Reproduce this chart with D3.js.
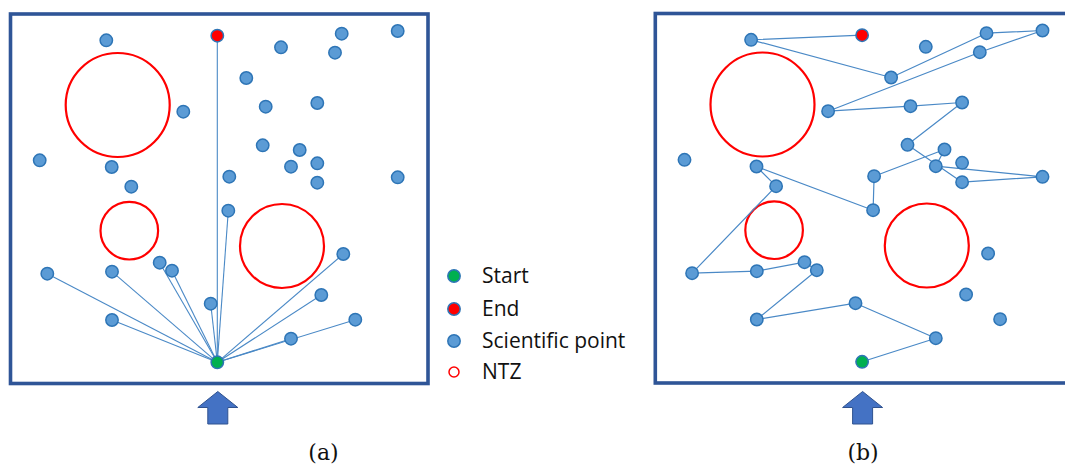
<!DOCTYPE html>
<html>
<head>
<meta charset="utf-8">
<script src="https://cdn.jsdelivr.net/npm/d3@7"></script>
<style>
  body { margin: 0; background: #fff; }
  svg { display: block; }
</style>
</head>
<body>
<div id="chart"></div>
<script>
// field coordinates, relative to the top-left corner of each panel box
const startPoint = [206.8, 348.3];
const endPoint = [206.8, 21.7];

const sciX = [95.8, 270.5, 331.2, 387.2, 324.5, 235.8, 172.8, 255.2, 306.8, 29.2,
  101.2, 120.8, 252.2, 289.2, 280.5, 306.8, 306.8, 218.8, 387.2, 217.8,
  36.8, 101.5, 149.2, 161.5, 332.8, 310.8, 200.2, 101.5, 344.8, 280.5];
const sciY = [26.3, 33.3, 19.7, 17, 38.7, 64, 97.7, 92.7, 89, 146.3,
  153, 172.7, 131.3, 136, 152.7, 149.3, 168.7, 162.7, 163.3, 196.7,
  259.7, 257.7, 248.7, 256.7, 240, 281, 289.7, 306, 305.7, 324.7];

// no-travel zones
const ntzX = [107.2, 118.8, 271.5];
const ntzY = [91, 216.7, 232];
const ntzR = [52, 28.8, 42];

// (a): direct links from start; (b): one route (1-based point numbers)
const linksA = [21, 22, 23, 24, 28, 27, 20, "end", 25, 26, 29, 30];
const routeB = ["start", 30, 27, 28, 24, 23, 22, 21, 12, 11, 20, 18, 14, 15, 19, 17,
  13, 9, 8, 7, 5, 4, 3, 6, 1, "end"];

const legendLabels = ["Start", "End", "Scientific point", "NTZ"];
const panelLabels = ["(a)", "(b)"];

const W = 1065, H = 468;
const fieldW = 417.5, fieldH = 369.5;
const panels = [
  { x0: 10.5, y0: 14, label: panelLabels[0], labelX: 323.5 },
  { x0: 655.3, y0: 13.5, label: panelLabels[1], labelX: 863 },
];

const colors = {
  frame: "#2f5597",
  pointFill: "#5b9bd5",
  pointStroke: "#2e75b6",
  link: "#4a89c6",
  ntz: "#ff0000",
  start: "#00b050",
  end: "#ff0000",
  arrow: "#4472c4",
  arrowStroke: "#2f528f",
};
const pointR = 6.2;

const svg = d3.select("#chart").append("svg")
  .attr("width", W).attr("height", H);

function coord(key) {
  if (key === "start") return startPoint;
  if (key === "end") return endPoint;
  return [sciX[key - 1], sciY[key - 1]];
}

panels.forEach((p, pi) => {
  const x = d3.scaleLinear().domain([0, fieldW]).range([p.x0, p.x0 + fieldW]);
  const y = d3.scaleLinear().domain([0, fieldH]).range([p.y0, p.y0 + fieldH]);
  const g = svg.append("g");

  // frame
  g.append("rect")
    .attr("x", x(0)).attr("y", y(0))
    .attr("width", x(fieldW) - x(0)).attr("height", y(fieldH) - y(0))
    .attr("fill", "#fff")
    .attr("stroke", colors.frame)
    .attr("stroke-width", 3.6);

  // NTZ
  g.selectAll(".ntz").data(ntzX).enter().append("circle")
    .attr("cx", (d) => x(d))
    .attr("cy", (d, i) => y(ntzY[i]))
    .attr("r", (d, i) => ntzR[i])
    .attr("fill", "none")
    .attr("stroke", colors.ntz)
    .attr("stroke-width", 2.2);

  // links
  if (pi === 0) {
    g.selectAll(".link").data(linksA).enter().append("line")
      .attr("x1", x(startPoint[0])).attr("y1", y(startPoint[1]))
      .attr("x2", (d) => x(coord(d)[0]))
      .attr("y2", (d) => y(coord(d)[1]))
      .attr("stroke", colors.link)
      .attr("stroke-width", 1.1);
  } else {
    const line = d3.line().x((d) => x(coord(d)[0])).y((d) => y(coord(d)[1]));
    g.append("path")
      .attr("d", line(routeB))
      .attr("fill", "none")
      .attr("stroke", colors.link)
      .attr("stroke-width", 1.2)
      .attr("stroke-linejoin", "round");
  }

  // scientific points
  g.selectAll(".pt").data(sciX).enter().append("circle")
    .attr("cx", (d) => x(d))
    .attr("cy", (d, i) => y(sciY[i]))
    .attr("r", pointR)
    .attr("fill", colors.pointFill)
    .attr("stroke", colors.pointStroke)
    .attr("stroke-width", 1.5);

  g.append("circle")
    .attr("cx", x(startPoint[0])).attr("cy", y(startPoint[1]))
    .attr("r", pointR).attr("fill", colors.start)
    .attr("stroke", colors.pointStroke).attr("stroke-width", 1.5);
  g.append("circle")
    .attr("cx", x(endPoint[0])).attr("cy", y(endPoint[1]))
    .attr("r", pointR).attr("fill", colors.end)
    .attr("stroke", colors.pointStroke).attr("stroke-width", 1.5);

  // arrow under the frame
  const ax = x(startPoint[0]) + 0.5, top = 391.5;
  const arrowPts = [
    [ax, top], [ax + 20, top + 16], [ax + 10, top + 16], [ax + 10, top + 32.5],
    [ax - 10, top + 32.5], [ax - 10, top + 16], [ax - 20, top + 16],
  ];
  g.append("polygon")
    .attr("points", arrowPts.map((d) => d.join(",")).join(" "))
    .attr("fill", colors.arrow)
    .attr("stroke", colors.arrowStroke)
    .attr("stroke-width", 1);

  g.append("text")
    .attr("x", p.labelX)
    .attr("y", 460)
    .attr("text-anchor", "middle")
    .attr("font-family", "'DejaVu Serif', 'Liberation Serif', serif")
    .attr("font-size", 22)
    .attr("fill", "#111")
    .text(p.label);
});

// legend
const legendY = [276, 309, 341, 372];
const legend = svg.selectAll(".legend").data(legendLabels).enter().append("g")
  .attr("transform", (d, i) => `translate(454,${legendY[i]})`);

legend.append("circle")
  .attr("r", (d, i) => (i === 3 ? 5 : pointR))
  .attr("fill", (d, i) => [colors.start, colors.end, colors.pointFill, "none"][i])
  .attr("stroke", (d, i) => (i === 3 ? colors.ntz : colors.pointStroke))
  .attr("stroke-width", 1.5);

legend.append("text")
  .attr("x", 28)
  .attr("dy", "0.35em")
  .attr("font-family", "'Open Sans', Lato, sans-serif")
  .attr("font-size", 21)
  .attr("fill", "#111")
  .text((d) => d);
</script>
</body>
</html>
